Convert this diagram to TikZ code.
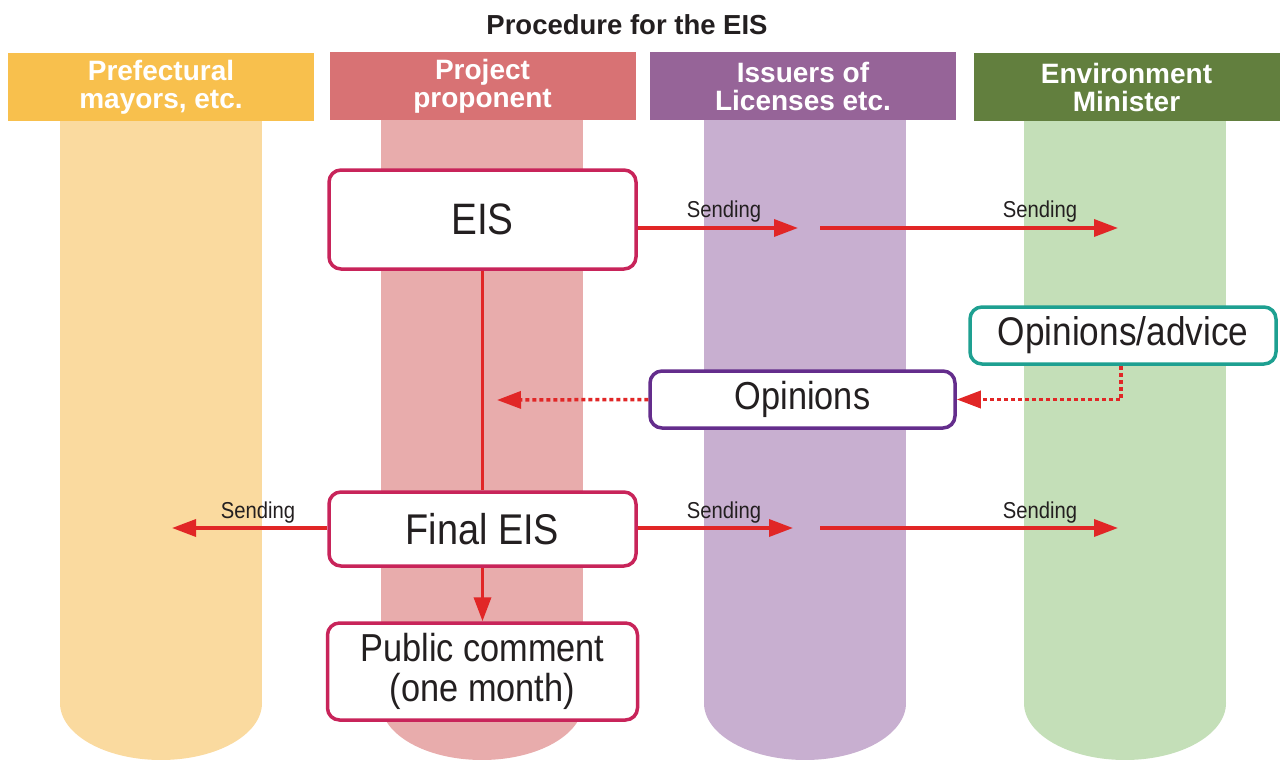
\documentclass[tikz,border=0pt]{standalone}
\usepackage{fontspec}
\setmainfont{Liberation Sans}
\newfontfamily\bxf[FakeStretch=0.88]{Liberation Sans}
\usetikzlibrary{arrows.meta}
\definecolor{hA}{RGB}{248,192,77}
\definecolor{bA}{RGB}{250,218,159}
\definecolor{hB}{RGB}{216,114,116}
\definecolor{bB}{RGB}{232,172,172}
\definecolor{hC}{RGB}{150,100,152}
\definecolor{bC}{RGB}{200,175,208}
\definecolor{hD}{RGB}{98,127,62}
\definecolor{bD}{RGB}{196,223,184}
\definecolor{boxred}{RGB}{200,36,90}
\definecolor{boxpur}{RGB}{100,45,140}
\definecolor{boxteal}{RGB}{30,160,145}
\definecolor{arrred}{RGB}{225,38,38}
\definecolor{txt}{RGB}{35,31,32}
\begin{document}
\begin{tikzpicture}[x=1pt,y=-1pt,
  hdr/.style={minimum width=306pt, minimum height=68pt, inner sep=0pt, text=white, align=center, font=\bfseries\fontsize{28}{28}\selectfont},
  box/.style={draw=boxred, line width=3.5pt, rounded corners=12pt, fill=white, inner sep=0pt, align=center, text=txt, font=\bxf\fontsize{43}{44}\selectfont},
  arr/.style={draw=arrred, line width=3.5pt, -{Triangle[length=24pt,width=17pt]}},
  dotarr/.style={arr, dash pattern=on 4pt off 3pt},
  plain/.style={draw=arrred, line width=3.5pt},
  lbl/.style={text=txt, inner sep=0pt, font=\bxf\fontsize{23}{23}\selectfont}
]
\useasboundingbox (0,0) rectangle (1280,760);
% title
\node[text=txt, font=\bfseries\fontsize{27.5}{27.5}\selectfont] (title) at (627,25) {Procedure for the EIS};
% column bars
\foreach \cx/\col in {161/bA, 482/bB, 805/bC, 1125/bD}{
  \fill[\col] (\cx-101,120) rectangle (\cx+101,703);
  \fill[\col] (\cx,703) ellipse [x radius=101, y radius=57];
}
% headers
\node[hdr, fill=hA] (h1) at (161,87) {Prefectural\\mayors, etc.};
\node[hdr, fill=hB] (h2) at (482.5,86) {Project\\proponent};
\node[hdr, fill=hC] (h3) at (803,86) {Issuers of\\Licenses etc.};
\node[hdr, fill=hD] (h4) at (1126.5,87) {Environment\\Minister};
% boxes
\node[box, minimum width=307pt, minimum height=99pt, font=\bxf\fontsize{44}{44}\selectfont] (eis) at (482.5,219.5) {EIS};
\node[box, minimum width=307pt, minimum height=74pt] (feis) at (482.5,529) {Final EIS};
\node[box, minimum width=310pt, minimum height=97pt, font=\bxf\fontsize{39}{40}\selectfont] (pc) at (482.5,671.5) {Public comment\\(one month)};
\node[box, draw=boxpur, minimum width=305pt, minimum height=57pt, font=\bxf\fontsize{39}{39}\selectfont] (op) at (802.5,399.5) {Opinions};
\node[box, draw=boxteal, minimum width=306pt, minimum height=57pt, font=\bxf\fontsize{40}{40}\selectfont] (oa) at (1123,335.5) {Opinions/advice};
% coordinates
\coordinate (t1) at (798,228);
\coordinate (t2s) at (820,228);
\coordinate (t2) at (1118,228);
\coordinate (b0) at (172,528);
\coordinate (b1) at (793,528);
\coordinate (b2s) at (820,528);
\coordinate (b2) at (1118,528);
\coordinate (od) at (497,400);
% connectors
\draw[arr] (eis.east |- t1) -- (t1);
\draw[arr] (t2s) -- (t2);
\draw[plain] (eis.south) -- (feis.north);
\draw[dotarr] (op.west) -- (od);
\draw[dotarr] (oa.south -| 1121,0) |- (op.east);
\draw[arr] (feis.west |- b0) -- (b0);
\draw[arr] (feis.east |- b1) -- (b1);
\draw[arr] (b2s) -- (b2);
\draw[arr] (feis.south) -- (pc.north);
% labels
\node[lbl] (s1) at (724,212) {Sending};
\node[lbl] (s2) at (1040,212) {Sending};
\node[lbl] (s3) at (258,513) {Sending};
\node[lbl] (s4) at (724,513) {Sending};
\node[lbl] (s5) at (1040,513) {Sending};
\end{tikzpicture}
\end{document}
